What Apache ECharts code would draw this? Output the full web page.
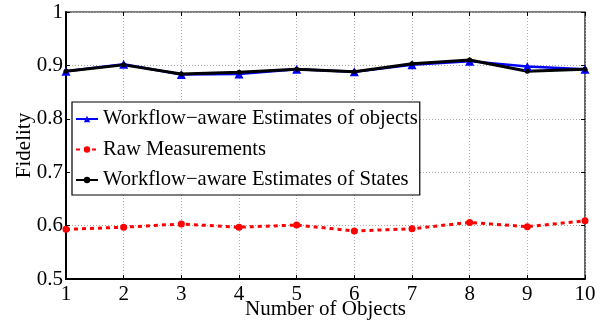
<!DOCTYPE html>
<html><head><meta charset="utf-8">
<script src="https://cdn.jsdelivr.net/npm/echarts@6/dist/echarts.min.js"></script>
<style>html,body{margin:0;padding:0;background:#fff}#c{width:606px;height:324px}</style>
</head><body><div id="c"></div>
<script>
const objects = [1,2,3,4,5,6,7,8,9,10];
const estObjects = [0.889,0.902,0.883,0.884,0.893,0.888,0.901,0.908,0.898,0.893];
const rawMeas = [0.593,0.597,0.603,0.597,0.601,0.590,0.594,0.606,0.598,0.609];
const estStates = [0.889,0.901,0.884,0.887,0.893,0.888,0.903,0.910,0.889,0.893];
const yTicks = [0.5,0.6,0.7,0.8,0.9,1];
const legendNames = ['Workflow\u2212aware Estimates of objects','Raw Measurements','Workflow\u2212aware Estimates of States'];

const pair = arr => objects.map((x,i)=>[x,arr[i]]);
const font = 'Liberation Serif';
const fs = 21;
const chart = echarts.init(document.getElementById('c'));
const yFmt = v=>{const t=yTicks.find(k=>Math.abs(k-v)<1e-6);return t===undefined?'':String(t);};
chart.setOption({
  animation:false,
  grid:{left:66,right:21,top:12,bottom:45,show:true,borderColor:'#000',borderWidth:1.2,outerBoundsMode:'none'},
  legend:{
    orient:'vertical', left:72, top:102, padding:[5,2,3,3],
    itemGap:6.5, itemWidth:22, itemHeight:8,
    backgroundColor:'#fff', borderColor:'#000', borderWidth:1.2,
    textStyle:{fontFamily:font,fontSize:20.6,color:'#000',lineHeight:24},
    data:legendNames
  },
  xAxis:[{type:'value',min:1,max:10,interval:1,
    name:'Number of Objects',nameLocation:'middle',nameGap:20,nameMoveOverlap:false,
    nameTextStyle:{fontFamily:font,fontSize:fs,color:'#000'},
    axisLine:{lineStyle:{color:'#000',width:2}},
    axisTick:{inside:true,length:4,lineStyle:{color:'#000'}},
    axisLabel:{fontFamily:font,fontSize:fs,color:'#000',margin:5},
    splitLine:{show:true,lineStyle:{color:'#aaa',type:[1,2]}}
  },{type:'value',min:1,max:10,interval:1,position:'top',
    axisLine:{show:false},axisTick:{inside:true,length:4,lineStyle:{color:'#000'}},
    axisLabel:{show:false},splitLine:{show:false}
  }],
  yAxis:[{type:'value',min:0.5,max:1,interval:0.1,
    name:'Fidelity',nameLocation:'middle',nameGap:31,nameMoveOverlap:false,
    nameTextStyle:{fontFamily:font,fontSize:fs,color:'#000'},
    axisLine:{lineStyle:{color:'#000',width:2}},
    axisTick:{inside:true,length:4,lineStyle:{color:'#000'}},
    axisLabel:{fontFamily:font,fontSize:fs,color:'#000',margin:3,formatter:yFmt},
    splitLine:{show:true,lineStyle:{color:'#aaa',type:[1,2]}}
  },{type:'value',min:0.5,max:1,interval:0.1,position:'right',
    axisLine:{show:false},axisTick:{inside:true,length:4,lineStyle:{color:'#000'}},
    axisLabel:{show:false},splitLine:{show:false}
  }],
  series:[
    {name:legendNames[0],type:'line',data:pair(estObjects),
     symbol:'triangle',symbolSize:9,itemStyle:{color:'#0000ff'},lineStyle:{color:'#0000ff',width:2.5}},
    {name:legendNames[1],type:'line',data:pair(rawMeas),
     symbol:'circle',symbolSize:7,itemStyle:{color:'#ff0000'},lineStyle:{color:'#ff0000',width:3,type:[4,4]}},
    {name:legendNames[2],type:'line',data:pair(estStates),
     symbol:'circle',symbolSize:5,itemStyle:{color:'#000'},lineStyle:{color:'#000',width:3}}
  ]
});
</script></body></html>
